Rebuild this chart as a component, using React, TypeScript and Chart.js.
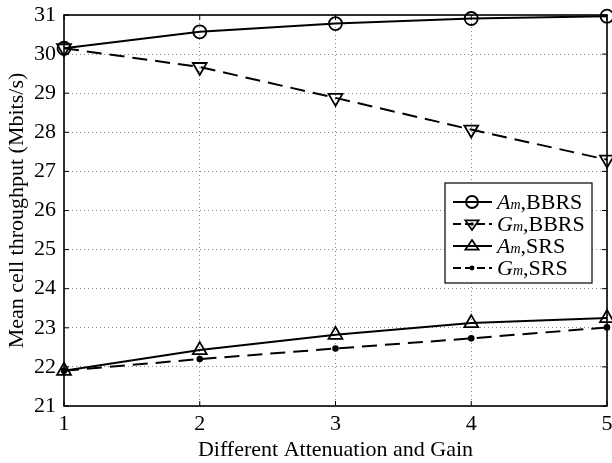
import React, { useEffect, useRef } from "react";
import { Chart, registerables } from "chart.js";

Chart.register(...registerables);

const xValues = [1, 2, 3, 4, 5];
const amBBRS = [30.15, 30.57, 30.78, 30.91, 30.97];
const gmBBRS = [30.15, 29.67, 28.88, 28.07, 27.3];
const amSRS = [21.9, 22.43, 22.82, 23.12, 23.25];
const gmSRS = [21.9, 22.2, 22.47, 22.73, 23.01];
const xTicks = [1, 2, 3, 4, 5];
const yTicks = [21, 22, 23, 24, 25, 26, 27, 28, 29, 30, 31];
const xTitle = "Different Attenuation and Gain";
const yTitle = "Mean cell throughput (Mbits/s)";
const legendItems = [
  { sym: "A", name: ",BBRS", marker: "circle", dashed: false },
  { sym: "G", name: ",BBRS", marker: "down", dashed: true },
  { sym: "A", name: ",SRS", marker: "up", dashed: false },
  { sym: "G", name: ",SRS", marker: "dot", dashed: true },
];

const FONT = "'Liberation Serif', 'Times New Roman', serif";
const DASH = [15, 8];

function drawMarker(ctx: CanvasRenderingContext2D, kind: string, x: number, y: number) {
  ctx.save();
  ctx.strokeStyle = "#000";
  ctx.fillStyle = "#000";
  ctx.lineWidth = 1.8;
  ctx.setLineDash([]);
  const r = 6;
  ctx.beginPath();
  if (kind === "circle") {
    ctx.arc(x, y, r, 0, Math.PI * 2);
    ctx.stroke();
  } else if (kind === "up") {
    ctx.moveTo(x, y - r);
    ctx.lineTo(x + r * 1.1, y + r * 0.6);
    ctx.lineTo(x - r * 1.1, y + r * 0.6);
    ctx.closePath();
    ctx.stroke();
  } else if (kind === "down") {
    ctx.moveTo(x, y + r);
    ctx.lineTo(x + r * 1.1, y - r * 0.6);
    ctx.lineTo(x - r * 1.1, y - r * 0.6);
    ctx.closePath();
    ctx.stroke();
    ctx.beginPath();
    ctx.arc(x, y, 1.8, 0, Math.PI * 2);
    ctx.fill();
  } else {
    ctx.arc(x, y, 2.4, 0, Math.PI * 2);
    ctx.fill();
  }
  ctx.restore();
}

const framePlugin = {
  id: "frame",
  afterDraw(chart: any) {
    const { ctx, chartArea } = chart;
    const { left, right, top, bottom } = chartArea;
    const xs = chart.scales.x;
    const ys = chart.scales.y;
    ctx.save();
    ctx.strokeStyle = "#000";
    ctx.lineWidth = 1.6;
    ctx.setLineDash([]);
    ctx.strokeRect(left, top, right - left, bottom - top);
    ctx.lineWidth = 1;
    ctx.beginPath();
    const tl = 5;
    xTicks.forEach((t) => {
      const px = xs.getPixelForValue(t);
      ctx.moveTo(px, bottom);
      ctx.lineTo(px, bottom - tl);
      ctx.moveTo(px, top);
      ctx.lineTo(px, top + tl);
    });
    yTicks.forEach((t) => {
      const py = ys.getPixelForValue(t);
      ctx.moveTo(left, py);
      ctx.lineTo(left + tl, py);
      ctx.moveTo(right, py);
      ctx.lineTo(right - tl, py);
    });
    ctx.stroke();

    // legend
    const bw = 147;
    const bh = 100;
    const bx = right - 15 - bw;
    const by = top + 168;
    ctx.fillStyle = "#fff";
    ctx.fillRect(bx, by, bw, bh);
    ctx.lineWidth = 1.2;
    ctx.strokeStyle = "#000";
    ctx.strokeRect(bx, by, bw, bh);
    const rowH = 22;
    legendItems.forEach((it, i) => {
      const cy = by + 19 + i * rowH;
      ctx.save();
      ctx.lineWidth = 1.8;
      ctx.setLineDash(it.dashed ? [8, 4] : []);
      ctx.beginPath();
      ctx.moveTo(bx + 8, cy);
      ctx.lineTo(bx + 47, cy);
      ctx.stroke();
      ctx.restore();
      drawMarker(ctx, it.marker, bx + 27, cy);
      ctx.fillStyle = "#000";
      ctx.textBaseline = "alphabetic";
      ctx.textAlign = "left";
      let tx = bx + 52;
      const base = cy + 7;
      ctx.font = `italic 22px ${FONT}`;
      ctx.fillText(it.sym, tx, base);
      tx += ctx.measureText(it.sym).width;
      ctx.font = `italic 14px ${FONT}`;
      ctx.fillText("m", tx, base);
      tx += ctx.measureText("m").width;
      ctx.font = `22px ${FONT}`;
      ctx.fillText(it.name, tx, base);
    });
    ctx.restore();
  },
};

function toPts(vals: number[]) {
  return xValues.map((x, i) => ({ x, y: vals[i] }));
}

export default function App() {
  const ref = useRef<HTMLCanvasElement | null>(null);
  useEffect(() => {
    document.body.style.margin = "0";
    if (!ref.current) return;
    const common = {
      borderColor: "#000",
      borderWidth: 2,
      pointBorderColor: "#000",
      pointBorderWidth: 1.8,
      pointBackgroundColor: "rgba(0,0,0,0)",
      tension: 0,
      fill: false,
      clip: false,
    };
    const chart = new Chart(ref.current, {
      type: "line",
      data: {
        datasets: [
          { ...common, label: "Am,BBRS", data: toPts(amBBRS), pointStyle: "circle", pointRadius: 6.5 },
          { ...common, label: "Gm,BBRS", data: toPts(gmBBRS), borderDash: DASH, pointStyle: "triangle", pointRotation: 180, pointRadius: 8 },
          { ...common, label: "Am,SRS", data: toPts(amSRS), pointStyle: "triangle", pointRadius: 8 },
          { ...common, label: "Gm,SRS", data: toPts(gmSRS), borderDash: DASH, pointStyle: "circle", pointRadius: 2.4, pointBackgroundColor: "#000" },
        ],
      },
      options: {
        animation: false,
        responsive: false,
        maintainAspectRatio: false,
        layout: { autoPadding: false, padding: { top: 15, right: 5, left: 0, bottom: 0 } },
        plugins: { legend: { display: false }, tooltip: { enabled: false } },
        scales: {
          x: {
            type: "linear",
            min: 1,
            max: 5,
            afterBuildTicks: (s: any) => { s.ticks = xTicks.map((v) => ({ value: v })); },
            afterFit: (s: any) => { s.height = 57; s.paddingLeft = 0; s.paddingRight = 0; },
            ticks: { color: "#000", font: { family: FONT, size: 22 }, padding: 0, maxRotation: 0 },
            grid: { color: "#8a8a8a", lineWidth: 1, drawTicks: true, tickLength: 5, tickColor: "rgba(0,0,0,0)" },
            border: { display: false, dash: [1, 3] },
            title: { display: true, text: xTitle, color: "#000", font: { family: FONT, size: 22 }, padding: { top: 0, bottom: 0 } },
          },
          y: {
            type: "linear",
            min: 21,
            max: 31,
            afterBuildTicks: (s: any) => { s.ticks = yTicks.map((v) => ({ value: v })); },
            afterFit: (s: any) => { s.width = 64; s.paddingTop = 0; s.paddingBottom = 0; },
            ticks: { color: "#000", font: { family: FONT, size: 22 }, padding: 8 },
            grid: { color: "#8a8a8a", lineWidth: 1, drawTicks: false },
            border: { display: false, dash: [1, 3] },
            title: { display: true, text: yTitle, color: "#000", font: { family: FONT, size: 22 }, padding: { top: 4, bottom: 0 } },
          },
        },
      },
      plugins: [framePlugin],
    } as any);
    return () => chart.destroy();
  }, []);
  return (
    <div style={{ position: "absolute", left: 0, top: 0, width: 612, height: 463, background: "#fff" }}>
      <canvas ref={ref} width={612} height={463} style={{ display: "block", width: 612, height: 463 }} />
    </div>
  );
}
